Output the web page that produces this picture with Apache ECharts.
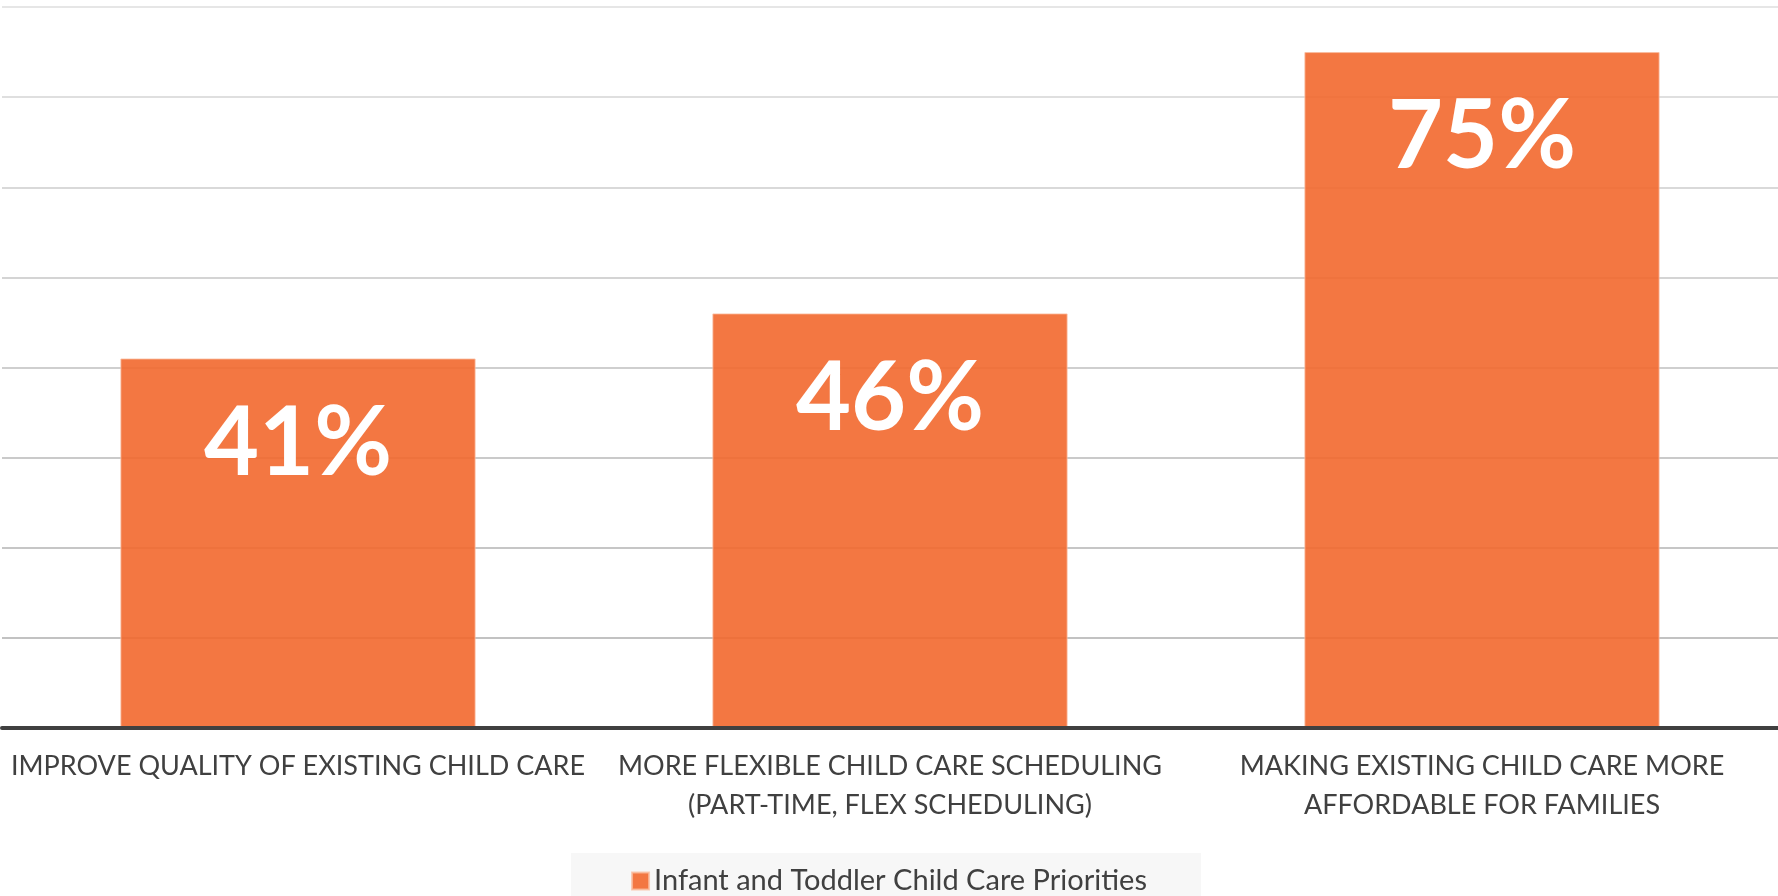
<!DOCTYPE html>
<html>
<head>
<meta charset="utf-8">
<script src="https://cdn.jsdelivr.net/npm/echarts@6/dist/echarts.min.js"></script>
<style>
  html, body { margin: 0; padding: 0; background: #fff; }
  #chart { width: 1778px; height: 896px; }
</style>
</head>
<body>
<div id="chart"></div>
<script>
const categories = [
  'IMPROVE QUALITY OF EXISTING CHILD CARE',
  'MORE FLEXIBLE CHILD CARE SCHEDULING\n(PART-TIME, FLEX SCHEDULING)',
  'MAKING EXISTING CHILD CARE MORE\nAFFORDABLE FOR FAMILIES'
];
const seriesName = 'Infant and Toddler Child Care Priorities';
const values = [41, 46, 75];

const chart = echarts.init(document.getElementById('chart'));

// gridlines fade a little toward the top, like the original
const gridColors = ['#c4c4c4', '#c2c2c2', '#c6c6c6', '#cacaca', '#cfcfcf', '#d4d4d4', '#d9d9d9', '#dfdfdf', '#e6e6e6'];

chart.setOption({
  animation: false,
  grid: { left: 2, right: 0, top: 7, bottom: 168 },
  legend: {
    data: [seriesName],
    left: 'center',
    top: 853,
    backgroundColor: '#f7f7f7',
    padding: [13, 54, 13, 60],
    itemWidth: 17,
    itemHeight: 17,
    itemGap: 8,
    icon: 'rect',
    textStyle: { fontFamily: 'Lato', fontSize: 29, color: '#404040', lineHeight: 30 }
  },
  xAxis: {
    type: 'category',
    data: categories,
    z: 10,
    axisLine: { lineStyle: { color: '#404040', width: 4 } },
    axisTick: { show: false },
    axisLabel: {
      interval: 0,
      margin: 19,
      fontFamily: 'Lato',
      fontSize: 27,
      lineHeight: 39,
      color: '#404040'
    }
  },
  yAxis: {
    type: 'value',
    min: 0,
    max: 80,
    interval: 10,
    axisLabel: { show: false },
    axisLine: { show: false },
    axisTick: { show: false },
    splitLine: { lineStyle: { color: gridColors, width: 2 } }
  },
  series: [{
    name: seriesName,
    type: 'bar',
    data: values,
    barCategoryGap: '40%',
    itemStyle: {
      color: 'rgba(242,104,46,0.9)',
      borderColor: 'rgba(250,190,160,0.8)',
      borderWidth: 1
    },
    label: {
      show: true,
      position: 'insideTop',
      distance: 38,
      formatter: '{c}%',
      fontFamily: 'Lato',
      fontWeight: 'bold',
      fontSize: 95,
      lineHeight: 95,
      color: '#fff'
    }
  }]
});
</script>
</body>
</html>
